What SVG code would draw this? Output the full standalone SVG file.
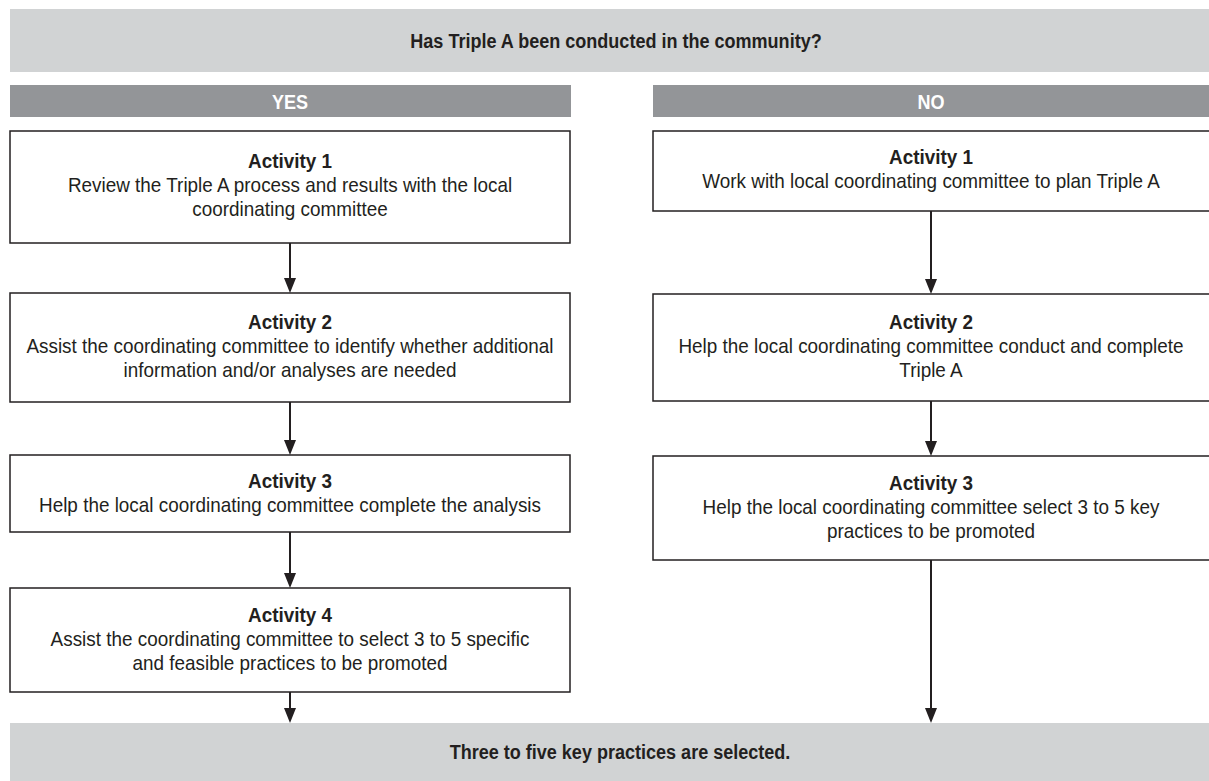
<svg xmlns="http://www.w3.org/2000/svg" width="1209" height="781" viewBox="0 0 1209 781">
  <defs>
    <style>
      .banner { fill: #d1d3d4; }
      .bar { fill: #939598; }
      .box { fill: #ffffff; stroke: #231f20; stroke-width: 1.5; }
      .txt { font-family: "Liberation Sans", Arial, sans-serif; fill: #231f20; text-anchor: middle; }
      .head { font-size: 20.5px; font-weight: bold; }
      .bartxt { font-family: "Liberation Sans", Arial, sans-serif; fill: #ffffff; font-size: 20.5px; font-weight: bold; text-anchor: middle; }
      .title { font-size: 21px; font-weight: bold; }
      .body { font-size: 21px; }
      .conn { stroke: #231f20; stroke-width: 2; fill: none; }
      .tip { fill: #231f20; }
    </style>
  </defs>

  <rect width="1209" height="781" fill="#ffffff"/>

  <!-- question banner -->
  <g id="question">
    <rect class="banner" x="10" y="9" width="1210" height="63"/>
    <g transform="translate(616 0) scale(0.88 1)">
      <text class="txt head" x="0" y="48">Has Triple A been conducted in the community?</text>
    </g>
  </g>

  <!-- branch headers -->
  <g id="yes">
    <rect class="bar" x="10" y="85" width="561" height="32"/>
    <g transform="translate(290 0) scale(0.88 1)">
      <text class="bartxt" x="0" y="109">YES</text>
    </g>
  </g>
  <g id="no">
    <rect class="bar" x="653" y="85" width="570" height="32"/>
    <g transform="translate(931 0) scale(0.88 1)">
      <text class="bartxt" x="0" y="109">NO</text>
    </g>
  </g>

  <!-- YES branch: boxes are drawn unscaled, labels are condensed horizontally -->
  <g id="yes-activity-1">
    <rect class="box" x="10" y="131" width="560" height="112"/>
    <g transform="translate(290 0) scale(0.9 1)">
      <text class="txt title" x="0" y="168">Activity 1</text>
      <text class="txt body" x="0" y="192">Review the Triple A process and results with the local</text>
      <text class="txt body" x="0" y="216">coordinating committee</text>
    </g>
  </g>
  <g id="yes-activity-2">
    <rect class="box" x="10" y="293" width="560" height="109"/>
    <g transform="translate(290 0) scale(0.9 1)">
      <text class="txt title" x="0" y="329">Activity 2</text>
      <text class="txt body" x="0" y="353">Assist the coordinating committee to identify whether additional</text>
      <text class="txt body" x="0" y="377">information and/or analyses are needed</text>
    </g>
  </g>
  <g id="yes-activity-3">
    <rect class="box" x="10" y="455" width="560" height="77"/>
    <g transform="translate(290 0) scale(0.9 1)">
      <text class="txt title" x="0" y="488">Activity 3</text>
      <text class="txt body" x="0" y="512">Help the local coordinating committee complete the analysis</text>
    </g>
  </g>
  <g id="yes-activity-4">
    <rect class="box" x="10" y="588" width="560" height="104"/>
    <g transform="translate(290 0) scale(0.9 1)">
      <text class="txt title" x="0" y="622">Activity 4</text>
      <text class="txt body" x="0" y="646">Assist the coordinating committee to select 3 to 5 specific</text>
      <text class="txt body" x="0" y="670">and feasible practices to be promoted</text>
    </g>
  </g>

  <!-- NO branch -->
  <g id="no-activity-1">
    <rect class="box" x="653" y="131" width="570" height="80"/>
    <g transform="translate(931 0) scale(0.9 1)">
      <text class="txt title" x="0" y="164">Activity 1</text>
      <text class="txt body" x="0" y="188">Work with local coordinating committee to plan Triple A</text>
    </g>
  </g>
  <g id="no-activity-2">
    <rect class="box" x="653" y="294" width="570" height="107"/>
    <g transform="translate(931 0) scale(0.9 1)">
      <text class="txt title" x="0" y="329">Activity 2</text>
      <text class="txt body" x="0" y="353">Help the local coordinating committee conduct and complete</text>
      <text class="txt body" x="0" y="377">Triple A</text>
    </g>
  </g>
  <g id="no-activity-3">
    <rect class="box" x="653" y="456" width="570" height="104"/>
    <g transform="translate(931 0) scale(0.9 1)">
      <text class="txt title" x="0" y="490">Activity 3</text>
      <text class="txt body" x="0" y="514">Help the local coordinating committee select 3 to 5 key</text>
      <text class="txt body" x="0" y="538">practices to be promoted</text>
    </g>
  </g>

  <!-- outcome banner -->
  <g id="outcome">
    <rect class="banner" x="10" y="723" width="1210" height="58"/>
    <g transform="translate(620 0) scale(0.88 1)">
      <text class="txt head" x="0" y="759">Three to five key practices are selected.</text>
    </g>
  </g>

  <!-- connectors: shaft plus filled tip -->
  <g id="connectors">
    <line class="conn" x1="290" y1="243" x2="290" y2="280"/>
    <path class="tip" d="M284,278 L296,278 L290,293 Z"/>
    <line class="conn" x1="290" y1="402" x2="290" y2="442"/>
    <path class="tip" d="M284,440 L296,440 L290,455 Z"/>
    <line class="conn" x1="290" y1="532" x2="290" y2="575"/>
    <path class="tip" d="M284,573 L296,573 L290,588 Z"/>
    <line class="conn" x1="290" y1="692" x2="290" y2="710"/>
    <path class="tip" d="M284,708 L296,708 L290,723 Z"/>

    <line class="conn" x1="931" y1="211" x2="931" y2="281"/>
    <path class="tip" d="M925,279 L937,279 L931,294 Z"/>
    <line class="conn" x1="931" y1="401" x2="931" y2="443"/>
    <path class="tip" d="M925,441 L937,441 L931,456 Z"/>
    <line class="conn" x1="931" y1="560" x2="931" y2="710"/>
    <path class="tip" d="M925,708 L937,708 L931,723 Z"/>
  </g>
</svg>
